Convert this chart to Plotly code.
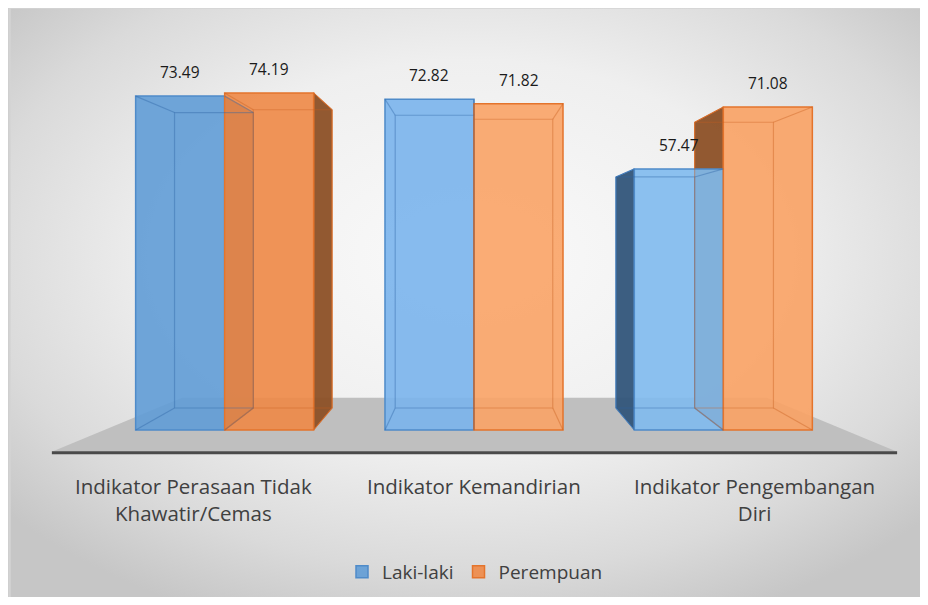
import base64
import plotly.graph_objects as go

# ---------------- data ----------------
categories = ["Indikator Perasaan Tidak<br>Khawatir/Cemas",
              "Indikator Kemandirian",
              "Indikator Pengembangan<br>Diri"]
series_names = ["Laki-laki", "Perempuan"]
laki_laki = [73.49, 72.82, 57.47]
perempuan = [74.19, 71.82, 71.08]

# ---------------- style ----------------
BAR_W = 0.357
OFFSETS = [-BAR_W, 0.0]
FRONT_COLORS = [
    ["rgba(96,156,214,0.9)", "rgba(122,180,236,0.9)", "rgba(128,186,238,0.9)"],
    ["rgba(238,136,70,0.9)", "rgba(250,163,102,0.9)", "rgba(249,162,100,0.9)"],
]
LINE_COLORS = ["#4f8bc9", "#e4742c"]
SIDE_COLORS = ["rgba(50,85,122,0.95)", "rgba(140,80,38,0.95)"]
EDGE_COLORS = ["rgba(45,100,165,0.4)", "rgba(200,95,30,0.4)"]
VANISH = (1.0, 42.0)   # perspective vanishing point (axis units)
DEPTH = 0.115          # box depth factor
LABEL_SPREAD = 1.125   # category labels sit on the (wider) front edge of the floor
FONT = "Open Sans"

values = [laki_laki, perempuan]
xpos = list(range(len(categories)))

fig = go.Figure()
shapes = []

# floor (decoration)
floor_pts = [(-0.693, -4.8), (2.697, -4.8), (2.175, 7.06), (-0.171, 7.06)]
shapes.append(dict(type="path", xref="x", yref="y", layer="below",
                   path="M " + " L ".join(f"{x},{y}" for x, y in floor_pts) + " Z",
                   fillcolor="#bfbfbf", line=dict(width=0)))
shapes.append(dict(type="line", xref="x", yref="y", layer="below",
                   x0=-0.693, x1=2.697, y0=-5.05, y1=-5.05,
                   line=dict(color="#4a4a4a", width=3)))


def back(p):
    return (p[0] + DEPTH * (VANISH[0] - p[0]), p[1] + DEPTH * (VANISH[1] - p[1]))


for s, vals in enumerate(values):
    ex, ey = [], []
    for i, v in zip(xpos, vals):
        x0 = i + OFFSETS[s]
        x1 = x0 + BAR_W
        F = [(x0, 0.0), (x1, 0.0), (x1, v), (x0, v)]
        B = [back(p) for p in F]
        face = None
        if x1 < VANISH[0] - 1e-6:
            face = [F[1], F[2], B[2], B[1]]
        elif x0 > VANISH[0] + 1e-6:
            face = [F[0], F[3], B[3], B[0]]
        if face:
            shapes.append(dict(type="path", xref="x", yref="y", layer="below",
                               path="M " + " L ".join(f"{x},{y}" for x, y in face) + " Z",
                               fillcolor=SIDE_COLORS[s],
                               line=dict(color=LINE_COLORS[s], width=1)))
        for k in [0, 1, 2, 3, 0]:
            ex.append(B[k][0]); ey.append(B[k][1])
        ex.append(None); ey.append(None)
        for k in range(4):
            ex += [F[k][0], B[k][0], None]
            ey += [F[k][1], B[k][1], None]
    fig.add_trace(go.Scatter(x=ex, y=ey, mode="lines", showlegend=False,
                             hoverinfo="skip",
                             line=dict(color=EDGE_COLORS[s], width=1.2)))

for s, vals in enumerate(values):
    fig.add_trace(go.Bar(
        name=series_names[s], x=xpos, y=vals, width=BAR_W, offset=OFFSETS[s],
        marker=dict(color=FRONT_COLORS[s], line=dict(color=LINE_COLORS[s], width=1.5)),
    ))

annotations = []
for s, vals in enumerate(values):
    for i, v in zip(xpos, vals):
        annotations.append(dict(x=i + OFFSETS[s] + BAR_W / 2, y=v, xref="x", yref="y",
                                text=f"{v:.2f}", showarrow=False, yanchor="bottom",
                                yshift=11, font=dict(family=FONT, size=15.5, color="#1a1a1a")))
for i, c in zip(xpos, categories):
    annotations.append(dict(x=VANISH[0] + (i - VANISH[0]) * LABEL_SPREAD, y=-7,
                            xref="x", yref="y", text=c, showarrow=False,
                            yanchor="top", yshift=-8,
                            font=dict(family=FONT, size=20.5, color="#404040")))

# background radial gradient (decoration)
svg = ("<svg xmlns='http://www.w3.org/2000/svg' width='940' height='620' "
       "preserveAspectRatio='none'><defs><radialGradient id='g' cx='0.49' cy='0.41' r='0.65'>"
       "<stop offset='0' stop-color='#fafafa'/><stop offset='0.5' stop-color='#efefef'/>"
       "<stop offset='0.8' stop-color='#dadada'/><stop offset='1' stop-color='#c6c6c6'/>"
       "</radialGradient></defs><rect width='940' height='620' fill='url(#g)'/></svg>")
src = "data:image/svg+xml;base64," + base64.b64encode(svg.encode()).decode()

shapes.append(dict(type="rect", xref="paper", yref="paper", x0=-0.0345, x1=1.1,
                   y0=-0.2, y1=1.0813, line=dict(color="#d4d4d4", width=1.5),
                   fillcolor="rgba(0,0,0,0)", layer="below"))

fig.update_layout(
    width=920, height=589,
    margin=dict(l=32, r=18, t=44, b=4),
    paper_bgcolor="#cfcfcf", plot_bgcolor="rgba(0,0,0,0)",
    barmode="overlay",
    xaxis=dict(range=[-0.7406, 2.7487], visible=False, fixedrange=True),
    yaxis=dict(range=[-35.9, 83.2], visible=False, fixedrange=True),
    shapes=shapes, annotations=annotations,
    images=[dict(source=src, xref="paper", yref="paper", x=-0.0345, y=1.0813,
                 sizex=1.0805, sizey=1.12, xanchor="left", yanchor="top",
                 sizing="stretch", layer="below")],
    showlegend=True,
    legend=dict(orientation="h", x=0.5, xanchor="center", y=0.0388, yanchor="middle",
                font=dict(family=FONT, size=19, color="#404040"),
                bgcolor="rgba(0,0,0,0)", itemwidth=30, traceorder="normal"),
    font=dict(family=FONT),
)

fig.write_html("out.html")
